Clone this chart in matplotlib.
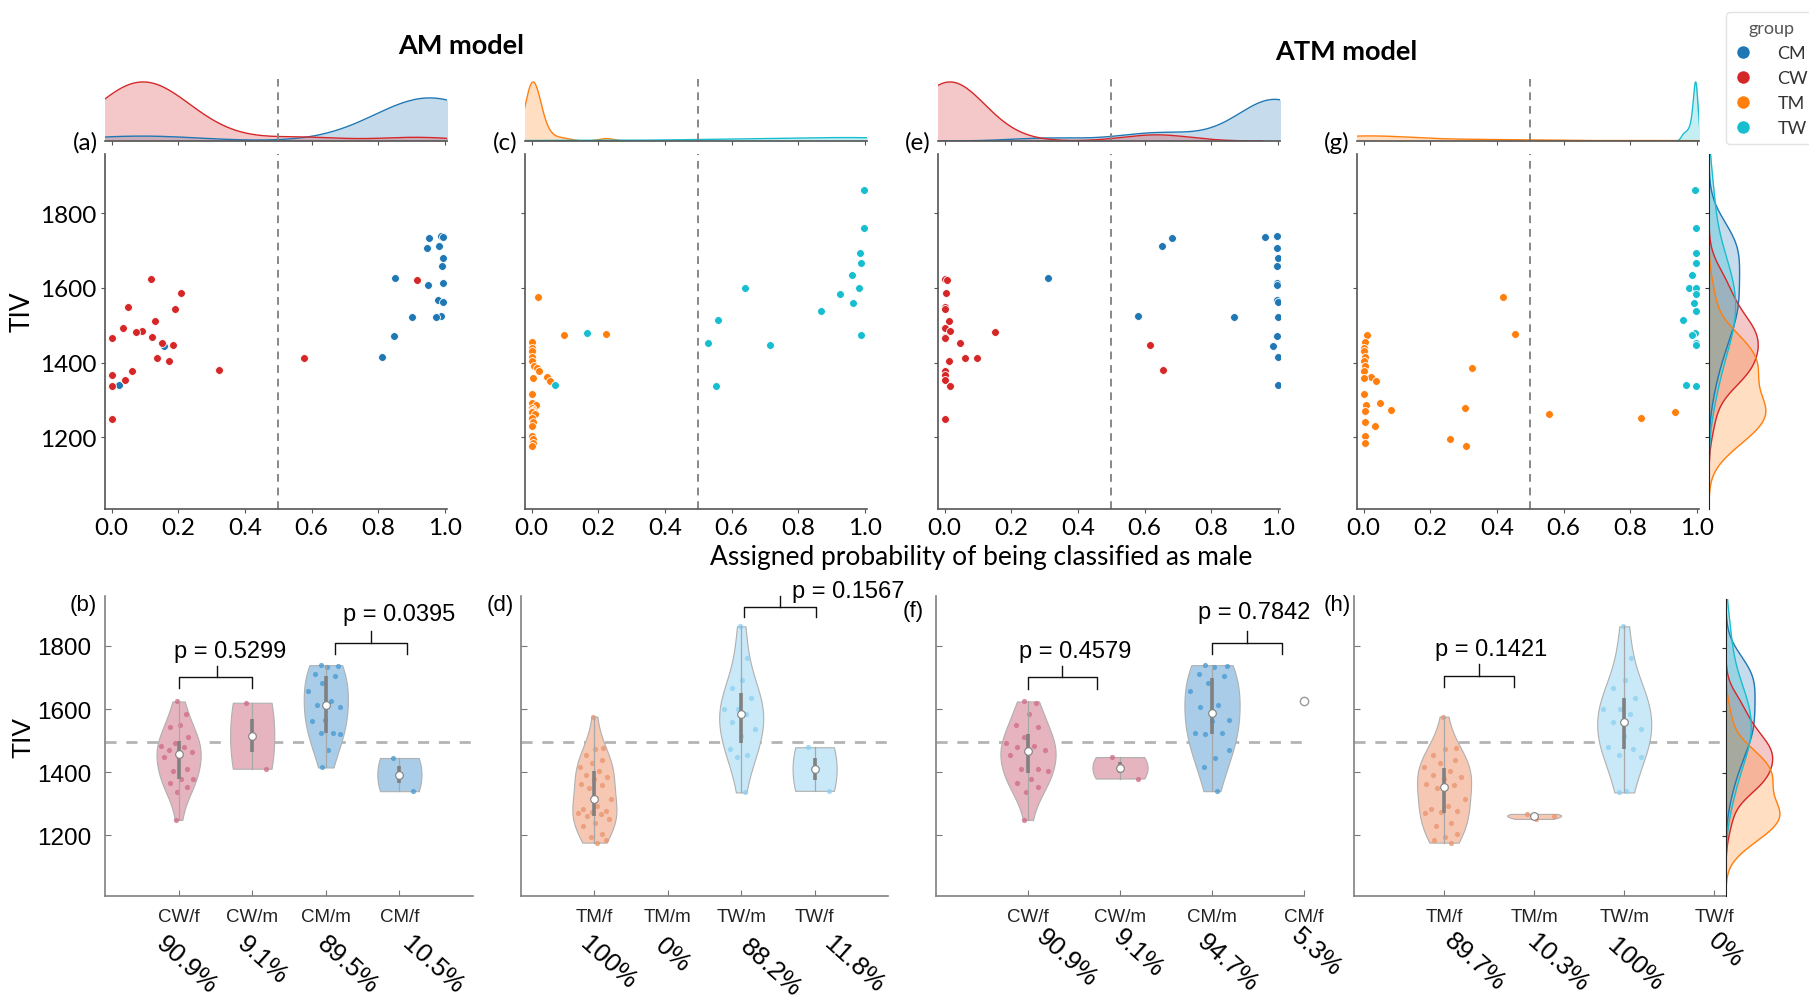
import numpy as np
import matplotlib.pyplot as plt
import matplotlib.transforms as mtransforms
from matplotlib.lines import Line2D

# ------------------------------------------------------------------
# data: TIV and assigned probability of being male
# (AM model and ATM model) for each group
tiv_cw = [1624, 1620, 1585, 1548, 1544, 1512, 1493, 1484, 1481, 1469, 1465,
          1453, 1448, 1411, 1411, 1404, 1380, 1378, 1367, 1354, 1338, 1249]
am_cw = [0.118, 0.915, 0.207, 0.050, 0.190, 0.129, 0.035, 0.090, 0.073, 0.121, 0.000,
         0.152, 0.183, 0.136, 0.576, 0.171, 0.322, 0.061, 0.000, 0.041, 0.000, 0.000]
atm_cw = [0.000, 0.008, 0.003, 0.000, 0.000, 0.014, 0.000, 0.016, 0.150, 0.001, 0.000,
          0.045, 0.617, 0.062, 0.097, 0.014, 0.655, 0.001, 0.000, 0.000, 0.017, 0.000]

tiv_cm = [1739, 1737, 1733, 1712, 1706, 1681, 1657, 1625, 1612, 1608, 1566, 1561,
          1525, 1523, 1522, 1470, 1445, 1415, 1340]
am_cm = [0.987, 0.993, 0.952, 0.983, 0.945, 0.993, 0.990, 0.850, 0.994, 0.950, 0.980, 0.994,
         0.988, 0.973, 0.901, 0.848, 0.158, 0.810, 0.022]
atm_cm = [0.998, 0.961, 0.682, 0.651, 0.998, 1.000, 0.998, 0.310, 0.998, 0.998, 0.998, 1.000,
          0.581, 0.868, 1.000, 0.998, 0.985, 1.000, 1.000]

tiv_tm = [1576, 1477, 1474, 1456, 1440, 1430, 1415, 1404, 1392, 1386, 1378, 1362, 1358, 1351,
          1316, 1292, 1285, 1278, 1274, 1270, 1268, 1262, 1252, 1240, 1229, 1204, 1195, 1185, 1177]
am_tm = [0.018, 0.224, 0.098, 0.000, 0.000, 0.000, 0.000, 0.000, 0.007, 0.015, 0.023, 0.045, 0.003, 0.055,
         0.000, 0.000, 0.013, 0.000, 0.003, 0.000, 0.000, 0.010, 0.000, 0.005, 0.000, 0.000, 0.005, 0.005, 0.000]
atm_tm = [0.417, 0.453, 0.010, 0.005, 0.000, 0.000, 0.005, 0.000, 0.005, 0.324, 0.000, 0.023, 0.000, 0.038,
          0.000, 0.050, 0.008, 0.305, 0.083, 0.003, 0.933, 0.555, 0.831, 0.003, 0.033, 0.003, 0.260, 0.003, 0.307]

tiv_tw = [1862, 1761, 1693, 1666, 1634, 1600, 1600, 1584, 1559, 1538, 1515, 1479, 1473, 1453, 1448, 1341, 1336]
am_tw = [0.997, 0.997, 0.985, 0.988, 0.960, 0.640, 0.983, 0.925, 0.963, 0.867, 0.558, 0.165, 0.989,
         0.528, 0.716, 0.070, 0.553]
atm_tw = [0.994, 0.998, 0.997, 0.997, 0.984, 0.976, 0.998, 0.997, 0.992, 0.997, 0.958, 0.994, 0.984,
          0.997, 0.997, 0.968, 0.997]

groups = ['CM', 'CW', 'TM', 'TW']
p_values = [['p = 0.5299', 'p = 0.0395'], ['p = 0.1567'], ['p = 0.4579', 'p = 0.7842'], ['p = 0.1421']]
tiv_ref = 1497   # dashed reference line in the violin panels

# ------------------------------------------------------------------
col = {'CM': '#1f77b4', 'CW': '#d62728', 'TM': '#ff7f0e', 'TW': '#17becf'}
vfill = {'CM': '#a9cde8', 'CW': '#e5b4bf', 'TM': '#f6c8b4', 'TW': '#c9e8f8'}
vpts = {'CM': '#4b9cd3', 'CW': '#cf6f88', 'TM': '#ea9670', 'TW': '#8fd1f0'}

data = {'CM': (np.array(tiv_cm), np.array(am_cm), np.array(atm_cm)),
        'CW': (np.array(tiv_cw), np.array(am_cw), np.array(atm_cw)),
        'TM': (np.array(tiv_tm), np.array(am_tm), np.array(atm_tm)),
        'TW': (np.array(tiv_tw), np.array(am_tw), np.array(atm_tw))}
n_all = sum(len(data[g][0]) for g in groups)

TOPFONT = ['Lato', 'DejaVu Sans']
BOTFONT = ['Liberation Sans', 'DejaVu Sans']
plt.rcParams['font.family'] = TOPFONT

W, H = 1809, 1003
fig = plt.figure(figsize=(W / 100, H / 100), dpi=100)


def px_axes(l, t, r, b):
    return fig.add_axes([l / W, 1 - b / H, (r - l) / W, (b - t) / H])


def scott_kde(v, n_tot, grid=None):
    v = np.asarray(v, float)
    bw = np.std(v, ddof=1) * len(v) ** (-0.2)
    if grid is None:
        grid = np.linspace(v.min() - 3 * bw, v.max() + 3 * bw, 200)
    d = np.exp(-0.5 * ((grid[:, None] - v[None, :]) / bw) ** 2).sum(1)
    d = d / (len(v) * bw * np.sqrt(2 * np.pi)) * len(v) / n_tot
    return grid, d


def tiv_marginal(l, t, r, b):
    axr = px_axes(l, t, r, b)
    dmax = 0
    for g in groups:
        ys, d = scott_kde(data[g][0], n_all)
        axr.fill_betweenx(ys, 0, d, color=col[g], alpha=0.25, lw=0)
        axr.plot(d, ys, color=col[g], lw=1)
        dmax = max(dmax, d.max())
    axr.set_xlim(0, dmax * 1.02)
    axr.set_ylim(YLIM)
    axr.set_xticks([])
    axr.set_yticks([1200, 1400, 1600, 1800])
    axr.tick_params(axis='y', labelleft=False, length=3, color='#333333')
    for s in ['top', 'right', 'bottom']:
        axr.spines[s].set_visible(False)
    axr.spines['left'].set_color('#222222')
    return axr


YLIM = (1008, 1958)
XLIM = (-0.02, 1.006)

# ------------------------------------------------------------------
# top row: scatter + marginal kde
lefts = [105, 525, 938, 1357]
combos = [(['CM', 'CW'], 1), (['TM', 'TW'], 1), (['CM', 'CW'], 2), (['TM', 'TW'], 2)]
top_labels = ['(a)', '(c)', '(e)', '(g)']
for k, (l, (gs, m)) in enumerate(zip(lefts, combos)):
    ax = px_axes(l, 155, l + 342, 510)
    axm = px_axes(l, 80, l + 342, 142)
    n_tot = sum(len(data[g][0]) for g in gs)
    for g in gs:
        tiv, prob = data[g][0], data[g][m]
        ax.scatter(prob, tiv, s=32, color=col[g], edgecolor='white', linewidth=0.6, zorder=3)
        xs, d = scott_kde(prob, n_tot)
        axm.fill_between(xs, 0, d, color=col[g], alpha=0.25, lw=0)
        axm.plot(xs, d, color=col[g], lw=1)
    ax.axvline(0.5, color='#888888', ls='--', lw=1.4, dashes=(4, 3))
    axm.axvline(0.5, color='#888888', ls='--', lw=1.4, dashes=(4, 3))
    ax.set_xlim(XLIM)
    axm.set_xlim(XLIM)
    ax.set_ylim(YLIM)
    axm.set_ylim(0, None)
    axm.margins(y=0.05)
    ax.set_xticks([0, 0.2, 0.4, 0.6, 0.8, 1.0])
    ax.set_xticklabels(['0.0', '0.2', '0.4', '0.6', '0.8', '1.0'])
    ax.set_yticks([1200, 1400, 1600, 1800])
    for s in ['top', 'right']:
        ax.spines[s].set_visible(False)
    for s in ['top', 'right', 'left']:
        axm.spines[s].set_visible(False)
    for a in (ax, axm):
        for s in a.spines.values():
            s.set_color('#555555')
            s.set_linewidth(1.2)
    ax.tick_params(labelsize=17.5, length=3, color='#555555', pad=3)
    axm.tick_params(axis='x', labelbottom=False, length=3, color='#555555')
    axm.set_yticks([])
    if k == 0:
        ax.set_ylabel('TIV', fontsize=19)
        ax.yaxis.set_label_coords(-0.205, 0.56)
    else:
        ax.tick_params(axis='y', labelleft=False)
    fig.text((l - 20) / W, 1 - 143 / H, top_labels[k], fontsize=17.5, ha='center', va='center')
    if k == 3:
        tiv_marginal(1709, 155, 1767, 510)

fig.text(461 / W, 1 - 46 / H, 'AM model', fontsize=19.5, fontweight='bold', ha='center', va='center')
fig.text(1346 / W, 1 - 52 / H, 'ATM model', fontsize=19.5, fontweight='bold', ha='center', va='center')
fig.text(981 / W, 1 - 557 / H, 'Assigned probability of being classified as male', fontsize=19,
         ha='center', va='center')

# legend
handles = [Line2D([], [], marker='o', ls='', color=col[g], markeredgecolor='white', markersize=10)
           for g in groups]
leg = fig.legend(handles, groups, title='group', loc='upper left', bbox_to_anchor=(1717 / W, 1 - 4 / H),
                 fontsize=13, title_fontsize=13, frameon=True, handletextpad=1.4, labelspacing=0.5,
                 borderpad=0.45, handlelength=1.0)
leg.get_frame().set_edgecolor('#dddddd')
for t in leg.get_texts():
    t.set_color('#333333')
leg.get_title().set_color('#555555')

# ------------------------------------------------------------------
# bottom row: violin plots (split by assigned class)


def split(g, m):
    tiv, prob = data[g][0], data[g][m]
    return tiv[prob < 0.5], tiv[prob >= 0.5]


def pct(n, tot):
    s = '%.1f' % (100.0 * n / tot)
    if s.endswith('.0'):
        s = s[:-2]
    return s + '%'


def violin(ax, pos, vals, g):
    vals = np.asarray(vals, float)
    if len(vals) == 0:
        return
    if len(vals) == 1:
        ax.plot(pos, vals[0], 'o', mfc='white', mec='#9a9a9a', ms=6, mew=1, clip_on=False, zorder=5)
        return
    med = np.median(vals)
    sig = np.median(np.abs(vals - med)) / 0.6745
    if sig == 0:
        sig = np.std(vals)
    bw = sig * (4.0 / (3 * len(vals))) ** 0.2
    ys = np.linspace(vals.min(), vals.max(), 120)
    d = np.exp(-0.5 * ((ys[:, None] - vals[None, :]) / bw) ** 2).sum(1)
    hw = d / d.max() * 0.3
    ax.fill_betweenx(ys, pos - hw, pos + hw, facecolor=vfill[g], edgecolor='#b0b0b0', lw=0.8, zorder=2)
    dp = np.exp(-0.5 * ((vals[:, None] - vals[None, :]) / bw) ** 2).sum(1) / d.max() * 0.3
    jit = ((np.arange(len(vals)) * 0.618 + 0.31) % 1.0) * 2 - 1
    ax.scatter(pos + jit * dp * 0.85, vals, s=14, color=vpts[g], alpha=0.8, lw=0, zorder=3)
    q1, q3 = np.percentile(vals, [25, 75])
    iqr = q3 - q1
    lo = max(vals.min(), q1 - 1.5 * iqr)
    hi = min(vals.max(), q3 + 1.5 * iqr)
    ax.plot([pos, pos], [lo, hi], color='#a8a8a8', lw=0.9, zorder=4)
    ax.plot([pos, pos], [q1, q3], color='#808080', lw=2.6, zorder=4, solid_capstyle='butt')
    ax.plot(pos, med, 'o', mfc='white', mec='#808080', ms=5.5, mew=0.8, zorder=5)


bot_axes = [(105, 473, 5.0), (521, 888, 5.0), (936, 1304, 4.0), (1354, 1726, 4.13)]
bot_groups = [('CW', 'CM', 1), ('TM', 'TW', 1), ('CW', 'CM', 2), ('TM', 'TW', 2)]
bot_labels = ['(b)', '(d)', '(f)', '(h)']
label_px = [(83, 605), (500, 605), (913, 612), (1337, 605)]
# p-value brackets: x1, x2, xmid, y_end, y_bar, y_tip, text_x, text_y
brackets = [[(1.01, 2.0, 1.52, 1667, 1703, 1737, 1.70, 1784), (3.13, 4.10, 3.61, 1775, 1810, 1847, 4.0, 1901)],
            [(3.04, 4.02, 3.53, 1892, 1923, 1958, 4.46, 1974)],
            [(1.0, 1.75, 1.37, 1664, 1703, 1737, 1.51, 1784), (3.0, 3.76, 3.38, 1773, 1810, 1847, 3.46, 1907)],
            [(1.0, 1.78, 1.39, 1670, 1706, 1743, 1.52, 1790)]]
pct_dx = [[0.11, 0.14, 0.30, 0.45], [0.19, 0.07, 0.40, 0.54], [0.42, 0.20, 0.17, 0.14], [0.34, 0.26, 0.12, 0.12]]
pct_y = [[965, 960, 965, 965], [963, 955, 968, 965], [958, 953, 963, 952], [962, 963, 965, 950]]

for k, ((l, r, xmax), (gw, gm, m)) in enumerate(zip(bot_axes, bot_groups)):
    ax = px_axes(l, 597, r, 897)
    # first group: female-classified / male-classified, second: male / female
    f1, m1 = split(gw, m)
    f2, m2 = split(gm, m)
    sets = [(f1, gw, gw + '/f'), (m1, gw, gw + '/m'), (m2, gm, gm + '/m'), (f2, gm, gm + '/f')]
    tots = [len(data[gw][0])] * 2 + [len(data[gm][0])] * 2
    ax.axhline(tiv_ref, color='#b4b4b4', ls='--', lw=2, dashes=(4, 3.5), zorder=1)
    for i, (vals, g, lab) in enumerate(sets):
        violin(ax, i + 1, vals, g)
    ax.set_xlim(0, xmax)
    ax.set_ylim(YLIM)
    ax.set_xticks([1, 2, 3, 4])
    ax.set_xticklabels([s[2] for s in sets], fontsize=13.5, family=BOTFONT, color='#222222')
    ax.set_yticks([1200, 1400, 1600, 1800])
    ax.tick_params(direction='in', length=4, color='#777777', pad=9)
    ax.tick_params(axis='y', labelsize=17.5, pad=10)
    for t in ax.get_yticklabels():
        t.set_family(BOTFONT)
    for s in ['top', 'right']:
        ax.spines[s].set_visible(False)
    for s in ['left', 'bottom']:
        ax.spines[s].set_color('#808080')
        ax.spines[s].set_linewidth(1.2)
    if k == 0:
        ax.set_ylabel('TIV', fontsize=19, family=BOTFONT)
        ax.yaxis.set_label_coords(-0.19, 0.53)
    else:
        ax.tick_params(axis='y', labelleft=False)
    trans = mtransforms.blended_transform_factory(ax.transData, ax.transAxes)
    for i, (vals, g, lab) in enumerate(sets):
        ax.text(i + 1 + pct_dx[k][i], (897 - pct_y[k][i]) / 300.0, pct(len(vals), tots[i]), transform=trans,
                rotation=-42, ha='center', va='center', fontsize=18.5, family=BOTFONT, clip_on=False)
    for (x1, x2, xm, ye, yb, yt, tx, ty), ptxt in zip(brackets[k], p_values[k]):
        ax.plot([x1, x1, x2, x2], [ye, yb, yb, ye], color='#111111', lw=1, clip_on=False)
        ax.plot([xm, xm], [yb, yt], color='#111111', lw=1, clip_on=False)
        ax.text(tx, ty, ptxt, ha='center', va='center', fontsize=17, family=BOTFONT, clip_on=False)
    fig.text(label_px[k][0] / W, 1 - label_px[k][1] / H, bot_labels[k], fontsize=16, family=BOTFONT,
             ha='center', va='center')
    if k == 3:
        tiv_marginal(1726, 600, 1781, 897)

fig.savefig('out.png', dpi=100)
